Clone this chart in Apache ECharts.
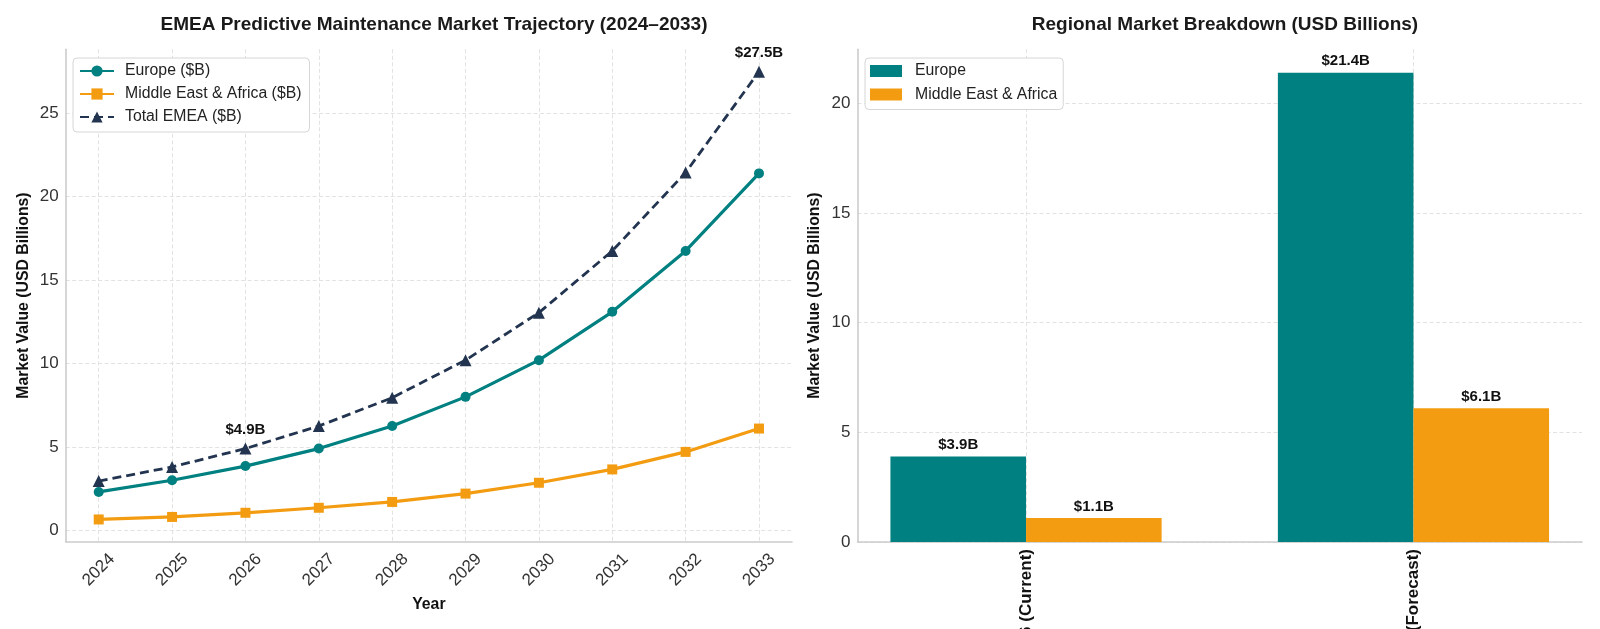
<!DOCTYPE html>
<html><head><meta charset="utf-8">
<script src="https://cdn.jsdelivr.net/npm/echarts@6/dist/echarts.min.js"></script>
<style>html,body{margin:0;padding:0;background:#fff}#c{width:1600px;height:629px}</style>
</head><body><div id="c"></div>
<script>
const years = [2024, 2025, 2026, 2027, 2028, 2029, 2030, 2031, 2032, 2033];
const europe = [2.3, 3.0, 3.85, 4.9, 6.25, 8.0, 10.2, 13.1, 16.75, 21.4];
const mea = [0.65, 0.8, 1.05, 1.35, 1.7, 2.2, 2.85, 3.65, 4.7, 6.1];
const total = [2.95, 3.8, 4.9, 6.25, 7.95, 10.2, 13.05, 16.75, 21.45, 27.5];
const annotatedYears = [2026, 2033];
const leftYTicks = [0, 5, 10, 15, 20, 25];

const barCategories = ['2026 (Current)', '2033 (Forecast)'];
const barEurope = [3.9, 21.4];
const barMea = [1.1, 6.1];
const rightYTicks = [0, 5, 10, 15, 20];

const FONT = 'Liberation Sans';
const TEAL = '#008080', ORANGE = '#F39C12', NAVY = '#22344F';
const gridLine = {show: true, lineStyle: {color: '#e2e2e2', type: [4, 2.5], width: 1}};
const axisLine = {show: true, onZero: false, lineStyle: {color: '#cccccc', width: 1.6}};
const tickLbl = {color: '#333', fontSize: 17, fontFamily: FONT};
const nameStyle = {fontSize: 15.8, fontWeight: 'bold', color: '#111', fontFamily: FONT};
const annStyle = {fontWeight: 'bold', fontSize: 15, color: '#111', fontFamily: FONT};

const chart = echarts.init(document.getElementById('c'), null, {renderer: 'canvas'});

const lineData = arr => years.map((y, i) => [y, arr[i]]);
const totalData = years.map((y, i) => {
  const d = {value: [y, total[i]]};
  if (annotatedYears.includes(y)) {
    d.label = Object.assign({show: true, position: 'top', distance: 5,
      formatter: '$' + total[i].toFixed(1) + 'B'}, annStyle);
  }
  return d;
});

const option = {
  backgroundColor: '#fff',
  animation: false,
  textStyle: {fontFamily: FONT},
  title: [
    {text: 'EMEA Predictive Maintenance Market Trajectory (2024–2033)', left: 429, top: 10, textAlign: 'center',
      textStyle: {fontSize: 19, fontWeight: 'bold', color: '#1a1a1a', fontFamily: FONT}},
    {text: 'Regional Market Breakdown (USD Billions)', left: 1220, top: 10, textAlign: 'center',
      textStyle: {fontSize: 19, fontWeight: 'bold', color: '#1a1a1a', fontFamily: FONT}}
  ],
  legend: [
    {left: 73, top: 58, orient: 'vertical', itemWidth: 34, itemHeight: 14, itemGap: 7,
      padding: [5, 8, 7, 6], backgroundColor: '#fff', borderColor: '#d6d6d6', borderWidth: 1, borderRadius: 4,
      textStyle: {fontSize: 15.8, lineHeight: 16, color: '#222', fontFamily: FONT, padding: [0, 0, 0, 6]},
      data: ['Europe ($B)', 'Middle East & Africa ($B)', 'Total EMEA ($B)']},
    {left: 865, top: 58, orient: 'vertical', itemWidth: 32, itemHeight: 12, itemGap: 7.5,
      padding: [5, 6, 7, 5], backgroundColor: '#fff', borderColor: '#d6d6d6', borderWidth: 1, borderRadius: 4,
      textStyle: {fontSize: 15.8, lineHeight: 16, color: '#222', fontFamily: FONT, padding: [0, 0, 0, 8]}, icon: 'rect',
      data: ['Europe', 'Middle East & Africa']}
  ],
  grid: [
    {left: 65.7, right: 808, top: 49.3, bottom: 87.2, outerBoundsMode: 'none', containLabel: false},
    {left: 857.5, right: 18, top: 49.2, bottom: 87, outerBoundsMode: 'none', containLabel: false}
  ],
  xAxis: [
    {gridIndex: 0, type: 'value', min: 2023.55, max: 2033.45,
      name: 'Year', nameLocation: 'middle', nameGap: 53, nameTextStyle: nameStyle,
      axisLine: axisLine, axisTick: {show: false, customValues: years},
      axisLabel: Object.assign({customValues: years, rotate: 45, align: 'center', verticalAlign: 'middle', margin: 28,
        formatter: v => String(v)}, tickLbl),
      splitLine: gridLine},
    {gridIndex: 1, type: 'value', min: -0.435, max: 1.435,
      axisLine: axisLine, axisTick: {show: false, customValues: [0, 1]},
      axisLabel: {customValues: [0, 1], rotate: 90, margin: 7, fontSize: 17, fontWeight: 'bold', color: '#111', fontFamily: FONT,
        formatter: v => barCategories[Math.round(v)] || ''},
      splitLine: gridLine}
  ],
  yAxis: [
    {gridIndex: 0, type: 'value', min: -0.69, max: 28.84,
      name: 'Market Value (USD Billions)', nameLocation: 'middle', nameGap: 34, nameTextStyle: nameStyle,
      axisLine: axisLine, axisTick: {show: false, customValues: leftYTicks},
      axisLabel: Object.assign({customValues: leftYTicks, margin: 7}, tickLbl),
      splitLine: gridLine},
    {gridIndex: 1, type: 'value', min: 0, max: 22.47,
      name: 'Market Value (USD Billions)', nameLocation: 'middle', nameGap: 35, nameTextStyle: nameStyle,
      axisLine: axisLine, axisTick: {show: false, customValues: rightYTicks},
      axisLabel: Object.assign({customValues: rightYTicks, margin: 7}, tickLbl),
      splitLine: gridLine}
  ],
  series: [
    {name: 'Europe ($B)', type: 'line', xAxisIndex: 0, yAxisIndex: 0, data: lineData(europe),
      symbol: 'circle', symbolSize: 10, itemStyle: {color: TEAL}, lineStyle: {color: TEAL, width: 3.2}, z: 3},
    {name: 'Middle East & Africa ($B)', type: 'line', xAxisIndex: 0, yAxisIndex: 0, data: lineData(mea),
      symbol: 'rect', symbolSize: 10, itemStyle: {color: ORANGE}, lineStyle: {color: ORANGE, width: 3.2}, z: 3},
    {name: 'Total EMEA ($B)', type: 'line', xAxisIndex: 0, yAxisIndex: 0, data: totalData,
      symbol: 'triangle', symbolSize: 12, itemStyle: {color: NAVY}, lineStyle: {color: NAVY, width: 2.8, type: [9, 5]}, z: 4},
    {name: 'Europe', type: 'bar', xAxisIndex: 1, yAxisIndex: 1, barWidth: '35%', barGap: '0%',
      data: barEurope.map((v, i) => [i, v]), itemStyle: {color: TEAL},
      label: Object.assign({show: true, position: 'top', distance: 4, formatter: p => '$' + p.value[1].toFixed(1) + 'B'}, annStyle)},
    {name: 'Middle East & Africa', type: 'bar', xAxisIndex: 1, yAxisIndex: 1, barWidth: '35%', barGap: '0%',
      data: barMea.map((v, i) => [i, v]), itemStyle: {color: ORANGE},
      label: Object.assign({show: true, position: 'top', distance: 4, formatter: p => '$' + p.value[1].toFixed(1) + 'B'}, annStyle)}
  ]
};
chart.setOption(option);
</script></body></html>
